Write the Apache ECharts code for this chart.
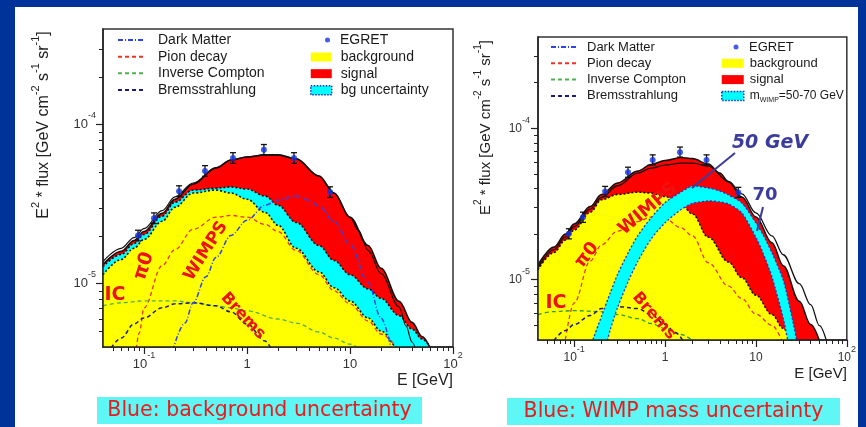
<!DOCTYPE html>
<html><head><meta charset="utf-8">
<script src="https://cdn.jsdelivr.net/npm/echarts@6.0.0/dist/echarts.min.js"></script>
<style>
html,body{margin:0;padding:0;width:866px;height:427px;overflow:hidden;background:#003399;}
#panel{position:absolute;left:15px;top:7px;width:843px;height:420px;background:#ffffff;}
#chart{position:absolute;left:0;top:0;width:859px;height:427px;}
</style></head><body>
<div id="panel"></div><div id="chart"></div>
<script>
// ---------------- axis ranges and ticks ----------------
const X_MIN = 0.04, X_MAX = 100, Y_MIN = 4e-6, Y_MAX = 4e-4;
const xMajor = [0.1, 1, 10, 100];
const xMajorLabels = ['10^-1', '1', '10', '10^2'];
const xMinor = [0.05,0.06,0.07,0.08,0.09,0.2,0.3,0.4,0.5,0.6,0.7,0.8,0.9,2,3,4,5,6,7,8,9,20,30,40,50,60,70,80,90];
const yMajor = [1e-5, 1e-4];
const yMajorLabels = ['10^-5', '10^-4'];
const yMinor = [5e-6,6e-6,7e-6,8e-6,9e-6,2e-5,3e-5,4e-5,5e-5,6e-5,7e-5,8e-5,9e-5,2e-4,3e-4];

// ---------------- EGRET data (both panels) ----------------
const egretE  = [0.0875, 0.125, 0.219, 0.391, 0.731, 1.46, 2.86, 6.40];
const egretF  = [2.01e-5, 2.58e-5, 3.82e-5, 5.12e-5, 6.18e-5, 6.95e-5, 6.18e-5, 3.77e-5];
const egretHi = [2.17e-5, 2.79e-5, 4.13e-5, 5.53e-5, 6.67e-5, 7.51e-5, 6.67e-5, 4.07e-5];
const egretLo = [1.86e-5, 2.39e-5, 3.54e-5, 4.74e-5, 5.72e-5, 6.44e-5, 5.72e-5, 3.49e-5];

// ---------------- left panel ----------------
const leftTotalE = [0.04,0.06,0.08,0.1,0.15,0.2,0.3,0.5,0.7,1,1.5,2,3,5,7,10,15,20,30,40,50,60];
const leftTotalF = [1.32e-5,1.60e-5,1.87e-5,2.13e-5,2.77e-5,3.40e-5,4.24e-5,5.35e-5,6.00e-5,6.27e-5,6.46e-5,6.46e-5,6.10e-5,4.76e-5,3.72e-5,2.62e-5,1.74e-5,1.25e-5,7.74e-6,5.71e-6,4.66e-6,3.94e-6];
const leftAltE = [0.04,0.06,0.08,0.1,0.15,0.2,0.3,0.5,0.7,1,1.5,2,3,5,7,10,12,15,20,30,35,40,45];
const leftAltF = [1.38e-5,1.67e-5,1.95e-5,2.22e-5,2.88e-5,3.52e-5,4.30e-5,5.35e-5,6.00e-5,6.27e-5,6.46e-5,6.46e-5,6.10e-5,4.76e-5,3.72e-5,2.62e-5,2.18e-5,1.62e-5,1.16e-5,7.15e-6,5.42e-6,4.30e-6,3.50e-6];
const leftBgUpE = [0.04,0.06,0.08,0.1,0.15,0.2,0.3,0.5,0.7,1,1.5,2,3,5,7,10,15,20,30,40,50,60];
const leftBgUpF = [1.28e-5,1.53e-5,1.79e-5,2.04e-5,2.66e-5,3.26e-5,3.88e-5,3.99e-5,4.06e-5,3.94e-5,3.56e-5,3.12e-5,2.43e-5,1.74e-5,1.40e-5,1.14e-5,9.29e-6,8.09e-6,6.30e-6,5.19e-6,4.49e-6,3.99e-6];
const leftBgE = [0.04,0.06,0.08,0.1,0.15,0.2,0.3,0.5,0.7,1,1.5,2,3,5,7,10,15,20,30,35];
const leftBgF = [1.14e-5,1.42e-5,1.67e-5,1.90e-5,2.47e-5,3.03e-5,3.72e-5,3.88e-5,3.72e-5,3.40e-5,2.81e-5,2.33e-5,1.67e-5,1.19e-5,9.44e-6,7.80e-6,6.09e-6,5.04e-6,3.88e-6,3.30e-6];
const leftPionE = [0.084,0.09,0.1,0.15,0.2,0.3,0.5,0.7,1,1.5,2,3,5,7,10,15,20,30];
const leftPionF = [3.9e-6,4.9e-6,7.05e-6,1.30e-5,1.64e-5,2.20e-5,2.62e-5,2.69e-5,2.62e-5,2.36e-5,2.13e-5,1.62e-5,1.14e-5,9.03e-6,7.47e-6,5.83e-6,4.83e-6,3.77e-6];
const leftDmE = [0.19,0.25,0.3,0.4,0.5,0.7,1,1.5,2,3,4,5,7,10,15,20,25];
const leftDmF = [3.8e-6,5.66e-6,7.59e-6,1.107e-5,1.462e-5,2.014e-5,2.506e-5,3.119e-5,3.35e-5,3.556e-5,3.35e-5,3.071e-5,2.467e-5,1.766e-5,1.014e-5,6.09e-6,3.94e-6];
const leftIcE = [0.04,0.06,0.1,0.2,0.3,0.5,0.7,1,2,3,5,7,10,12];
const leftIcF = [7.26e-6,7.59e-6,7.80e-6,7.80e-6,7.59e-6,7.26e-6,7.05e-6,6.75e-6,6.00e-6,5.66e-6,4.97e-6,4.55e-6,4.17e-6,3.94e-6];
const leftBremE = [0.048,0.06,0.08,0.1,0.15,0.2,0.3,0.5,0.7,1,1.5,1.7];
const leftBremF = [3.95e-6,4.55e-6,5.58e-6,6.09e-6,7.05e-6,7.47e-6,7.59e-6,7.26e-6,6.65e-6,5.58e-6,4.36e-6,3.94e-6];

// ---------------- right panel ----------------
const rightBgE = [0.04,0.06,0.08,0.1,0.15,0.2,0.3,0.5,0.7,1,1.5,2,3,5,7,10,15,20,25,30];
const rightBgF = [1.164e-5,1.513e-5,1.827e-5,2.128e-5,2.786e-5,3.373e-5,3.656e-5,3.784e-5,3.733e-5,3.54e-5,3.162e-5,2.717e-5,1.905e-5,1.306e-5,1.031e-5,7.91e-6,5.89e-6,4.77e-6,3.97e-6,3.3e-6];
const rightTot50E = [0.04,0.06,0.08,0.1,0.15,0.2,0.3,0.5,0.7,1,1.5,2,3,4,5,7,10,15,20,30,40,50];
const rightTot50F = [1.256e-5,1.644e-5,2.0e-5,2.333e-5,3.041e-5,3.648e-5,4.347e-5,5.212e-5,5.764e-5,6.118e-5,6.40e-5,6.30e-5,5.80e-5,5.058e-5,4.418e-5,3.516e-5,2.597e-5,1.751e-5,1.236e-5,7.2e-6,5.06e-6,3.95e-6];
const rightTot70E = [0.04,0.06,0.08,0.1,0.15,0.2,0.3,0.5,0.7,1,1.5,2,3,5,7,10,15,20,30,40,50,60];
const rightTot70F = [1.206e-5,1.578e-5,1.92e-5,2.24e-5,2.92e-5,3.50e-5,4.17e-5,5.058e-5,5.456e-5,5.711e-5,5.888e-5,5.888e-5,5.623e-5,4.45e-5,3.69e-5,2.759e-5,1.947e-5,1.461e-5,9.41e-6,6.85e-6,4.98e-6,3.91e-6];
const rightDmE = [0.161,0.2,0.25,0.3,0.4,0.5,0.7,1,1.5,2,3,4,5,7,10,12,15,20,25,28];
const rightDmHiF = [4.03e-6,5.74e-6,8.22e-6,1.082e-5,1.54e-5,1.948e-5,2.558e-5,3.228e-5,3.793e-5,4.152e-5,4.03e-5,3.85e-5,3.623e-5,3.211e-5,2.371e-5,1.977e-5,1.506e-5,9.93e-6,5.62e-6,3.98e-6];
const rightDmLoF = [3.0e-6,3.0e-6,4.70e-6,6.55e-6,1.0e-5,1.318e-5,1.855e-5,2.375e-5,2.904e-5,3.188e-5,3.311e-5,3.26e-5,3.162e-5,2.759e-5,1.901e-5,1.494e-5,1.042e-5,5.54e-6,3.0e-6,3.0e-6];
const rightPionE = [0.08,0.1,0.15,0.2,0.3,0.5,0.7,1,1.5,2,3,5,7,10,15,20];
const rightPionF = [4.03e-6,7.03e-6,1.327e-5,1.698e-5,2.094e-5,2.419e-5,2.588e-5,2.529e-5,2.198e-5,1.947e-5,1.294e-5,9.06e-6,7.50e-6,5.93e-6,5.0e-6,3.76e-6];
const rightIcE = [0.04,0.06,0.1,0.2,0.3,0.5,0.7,1,1.5,2];
const rightIcF = [5.89e-6,6.16e-6,6.25e-6,6.16e-6,5.89e-6,5.54e-6,5.14e-6,4.77e-6,4.35e-6,3.97e-6];
const rightBremE = [0.06,0.08,0.1,0.15,0.2,0.3,0.5,0.7,1,1.3,1.6];
const rightBremF = [3.97e-6,4.62e-6,5.06e-6,5.80e-6,6.45e-6,6.65e-6,6.45e-6,5.89e-6,5.06e-6,4.48e-6,3.89e-6];

// ---------------- helpers ----------------
const FONT = 'Liberation Sans, Arial, sans-serif';
const ANN = 'DejaVu Sans, sans-serif';
const AX = '#222';
const BAND_NAME = 'm_WIMP=50-70 GeV';
const pair = (xs, ys) => xs.map((x, i) => [x, ys[i]]);
function richLabel(t){ const p = t.split('^'); return '{n|' + p[0] + '}' + (p.length > 1 ? '{s|' + p[1] + '}' : ''); }
function tickFmt(vals, labs){
  return function(v){
    for (let i = 0; i < vals.length; i++) {
      if (Math.abs(Math.log10(v) - Math.log10(vals[i])) < 1e-6) return richLabel(labs[i]);
    }
    return '';
  };
}
const Y_NAME = '{n|E}{s|2}{n| * flux [GeV cm}{s|-2}{n| s}{s|-1}{n| sr}{s|-1}{n|]}';

function axes(g, s){
  const tickRich = {
    n: {fontSize: s.tfs, lineHeight: s.tlh, color: '#333', fontFamily: FONT},
    s: {fontSize: s.sfs, lineHeight: s.sfs, verticalAlign: 'top', color: '#333', fontFamily: FONT}
  };
  const xs = [
    { type:'log', gridIndex:g, min:X_MIN, max:X_MAX, z:10,
      axisLine:{show:true, lineStyle:{color:AX, width:1.5}},
      axisTick:{show:true, inside:false, length:7, customValues:xMajor, lineStyle:{color:AX, width:1.2}},
      axisLabel:{show:true, customValues:xMajor, formatter:tickFmt(xMajor, xMajorLabels), margin:s.xm, rich:tickRich},
      splitLine:{show:false}, minorTick:{show:false},
      name:'E [GeV]', nameLocation:'end', nameGap:0,
      nameTextStyle:{fontSize:s.nfs, color:'#222', fontFamily:FONT, align:'right', verticalAlign:'top', padding:[s.xnp,0,0,0]} },
    { type:'log', gridIndex:g, min:X_MIN, max:X_MAX, z:10, position:'bottom',
      axisLine:{show:false}, axisLabel:{show:false}, splitLine:{show:false},
      axisTick:{show:true, inside:false, length:4, customValues:xMinor, lineStyle:{color:AX, width:1}} }
  ];
  const ys = [
    { type:'log', gridIndex:g, min:Y_MIN, max:Y_MAX, z:10,
      axisLine:{show:true, lineStyle:{color:AX, width:1.5}},
      axisTick:{show:true, inside:false, length:7, customValues:yMajor, lineStyle:{color:AX, width:1.2}},
      axisLabel:{show:true, customValues:yMajor, formatter:tickFmt(yMajor, yMajorLabels), margin:s.ym, rich:tickRich},
      splitLine:{show:false}, minorTick:{show:false},
      name:Y_NAME, nameLocation:'middle', nameRotate:90, nameGap:s.yng,
      nameTextStyle:{color:'#222', fontFamily:FONT, padding:[0,0,0,s.ynp],
        rich:{ n:{fontSize:s.nfs, lineHeight:s.nlh, color:'#222', fontFamily:FONT},
               s:{fontSize:s.nsfs, lineHeight:s.nsfs, verticalAlign:'top', color:'#222', fontFamily:FONT} } } },
    { type:'log', gridIndex:g, min:Y_MIN, max:Y_MAX, z:10, position:'left',
      axisLine:{show:false}, axisLabel:{show:false}, splitLine:{show:false},
      axisTick:{show:true, inside:false, length:4, customValues:yMinor, lineStyle:{color:AX, width:1}} }
  ];
  return {xs, ys};
}

function area(name, xi, yi, xs, ys, color, z){
  return { type:'line', name, xAxisIndex:xi, yAxisIndex:yi, data:pair(xs, ys), symbol:'none',
    smooth:0.35, smoothMonotone:'x', clip:true, silent:true, z,
    itemStyle:{color}, lineStyle:{width:0, opacity:0}, areaStyle:{color, opacity:1, origin:'start'} };
}
function line(name, xi, yi, xs, ys, color, type, width, z){
  return { type:'line', name, xAxisIndex:xi, yAxisIndex:yi, data:pair(xs, ys), symbol:'none',
    smooth:0.35, smoothMonotone:'x', clip:true, silent:true, z,
    itemStyle:{color}, lineStyle:{color, type, width} };
}
function egret(xi, yi){
  return [
    { type:'custom', name:'EGRET errors', xAxisIndex:xi, yAxisIndex:yi, z:6, silent:true, clip:true,
      data: egretE.map((e, i) => [e, egretLo[i], egretHi[i]]),
      encode:{x:0, y:[1,2]},
      renderItem:(params, api) => {
        const x = api.value(0);
        const a = api.coord([x, api.value(1)]), b = api.coord([x, api.value(2)]);
        const st = {stroke:'#111', lineWidth:1.3};
        return {type:'group', children:[
          {type:'line', shape:{x1:a[0], y1:a[1], x2:b[0], y2:b[1]}, style:st},
          {type:'line', shape:{x1:b[0]-3, y1:b[1], x2:b[0]+3, y2:b[1]}, style:st},
          {type:'line', shape:{x1:a[0]-3, y1:a[1], x2:a[0]+3, y2:a[1]}, style:st}
        ]};
      } },
    { type:'scatter', name:'EGRET', xAxisIndex:xi, yAxisIndex:yi, z:7, silent:true,
      data: pair(egretE, egretF), symbol:'circle', symbolSize:6, itemStyle:{color:'#1535e0'} }
  ];
}
// WIMP mass band: polygon between the 50 GeV and 70 GeV dark-matter curves
function band(xi, yi){
  return { type:'custom', name:BAND_NAME, xAxisIndex:xi, yAxisIndex:yi, z:4, silent:true, clip:true,
    itemStyle:{color:'#00ffff'},
    data: pair(rightDmE, rightDmHiF), encode:{x:0, y:1},
    renderItem:(params, api) => {
      if (params.dataIndex !== 0) return null;
      const hi = rightDmE.map((e, i) => api.coord([e, rightDmHiF[i]]));
      const lo = rightDmE.map((e, i) => api.coord([e, rightDmLoF[i]]));
      const cs = params.coordSys;
      const edge = {stroke:'#2233c8', lineWidth:1.3, lineDash:[2,2], fill:null};
      return {type:'group',
        clipPath:{type:'rect', shape:{x:cs.x, y:cs.y, width:cs.width, height:cs.height}},
        children:[
          {type:'polygon', shape:{points: hi.concat(lo.slice().reverse()), smooth:0.25}, style:{fill:'#00ffff'}},
          {type:'polyline', shape:{points:hi, smooth:0.25}, style:edge},
          {type:'polyline', shape:{points:lo, smooth:0.25}, style:edge}
        ]};
    } };
}

const C_DM = '#2f44e6', C_PI = '#ee3322', C_IC = '#4fb04f', C_BR = '#1c1c78';
const DASH = [4,3], DOT = [2,2], DASHDOT = [5,2,1,2];

const L = axes(0, {tfs:13, tlh:27, sfs:9, xm:4, ym:7, nfs:16, xnp:26, yng:46, ynp:126, nlh:27, nsfs:11});
const R = axes(1, {tfs:12, tlh:25, sfs:9, xm:5, ym:8, nfs:15, xnp:26, yng:40, ynp:122, nlh:25, nsfs:10});

const series = [
  // left panel fills
  area('signal', 0, 0, leftTotalE, leftTotalF, '#ff0000', 1),
  area('bg uncertainty', 0, 0, leftBgUpE, leftBgUpF, '#00ffff', 1),
  area('background', 0, 0, leftBgE, leftBgF, '#ffff00', 1),
  line('bg upper edge', 0, 0, leftBgUpE, leftBgUpF, '#111', DOT, 1.6, 2),
  line('bg edge', 0, 0, leftBgE, leftBgF, '#111', DOT, 1.6, 2),
  line('Pion decay', 0, 0, leftPionE, leftPionF, C_PI, DASH, 1.3, 2),
  line('Inverse Compton', 0, 0, leftIcE, leftIcF, C_IC, DASH, 1.3, 2),
  line('Bremsstrahlung', 0, 0, leftBremE, leftBremF, C_BR, DASH, 1.5, 2),
  line('Dark Matter', 0, 0, leftDmE, leftDmF, C_DM, DASHDOT, 1.5, 2),
  line('total', 0, 0, leftTotalE, leftTotalF, '#111', 'solid', 1.6, 5),
  line('total (alt)', 0, 0, leftAltE, leftAltF, '#111', 'solid', 1.2, 5),
  ...egret(0, 0),
  // right panel
  area('signal', 2, 2, rightTot50E, rightTot50F, '#ff0000', 1),
  area('background', 2, 2, rightBgE, rightBgF, '#ffff00', 1),
  line('bg edge', 2, 2, rightBgE, rightBgF, '#111', DOT, 1.6, 2),
  line('Pion decay', 2, 2, rightPionE, rightPionF, C_PI, DASH, 1.3, 2),
  line('Inverse Compton', 2, 2, rightIcE, rightIcF, '#2e9a2e', DASH, 1.3, 2),
  line('Bremsstrahlung', 2, 2, rightBremE, rightBremF, C_BR, DASH, 1.5, 2),
  band(2, 2),
  line('total 50 GeV', 2, 2, rightTot50E, rightTot50F, '#111', 'solid', 1.5, 5),
  line('total 70 GeV', 2, 2, rightTot70E, rightTot70F, '#111', 'solid', 1.3, 5),
  ...egret(2, 2)
];

const legTxt = (fs, lh, pad) => ({fontSize:fs, lineHeight:lh, color:'#1a1a1a', fontFamily:FONT, padding:[0,0,0,pad]});
const boxItems = (third) => [
  {name:'background', icon:'rect', itemStyle:{color:'#ffff00', borderWidth:0}},
  {name:'signal', icon:'rect', itemStyle:{color:'#ff0000', borderWidth:0}},
  {name:third, icon:'rect', itemStyle:{color:'#00ffff', borderColor:'#1030d0', borderWidth:1.5, borderType:'dotted'}}
];
const lineNames = ['Dark Matter','Pion decay','Inverse Compton','Bremsstrahlung'];
const legend = [
  // left panel
  {data:lineNames, left:117, top:32, orient:'vertical', padding:0, itemWidth:26, itemHeight:14, itemGap:0.67,
   selectedMode:false, itemStyle:{opacity:0}, textStyle:legTxt(14, 16, 9)},
  {data:[{name:'EGRET', icon:'circle'}], left:325, top:32, padding:0, itemWidth:5, itemHeight:5,
   selectedMode:false, textStyle:legTxt(14, 16, 5)},
  {data:boxItems('bg uncertainty'), left:310, top:49, orient:'vertical', padding:0, itemWidth:21, itemHeight:9, itemGap:0.67,
   selectedMode:false, textStyle:legTxt(14, 16, 4)},
  // right panel
  {data:lineNames, left:550, top:39.5, orient:'vertical', padding:0, itemWidth:26, itemHeight:13, itemGap:1.3,
   selectedMode:false, itemStyle:{opacity:0}, textStyle:legTxt(13, 15, 5)},
  {data:[{name:'EGRET', icon:'circle'}], left:733.5, top:39.5, padding:0, itemWidth:5, itemHeight:5,
   selectedMode:false, textStyle:legTxt(13, 15, 5.5)},
  {data:boxItems(BAND_NAME), left:721, top:55.8, orient:'vertical', padding:0, itemWidth:22, itemHeight:9, itemGap:1.3,
   selectedMode:false,
   formatter: n => n === BAND_NAME ? '{t|m}{b|WIMP}{t|=50-70 GeV}' : n,
   textStyle:Object.assign(legTxt(13, 15, 1), {rich:{
     t:{fontSize:12, lineHeight:15, color:'#1a1a1a', fontFamily:FONT},
     b:{fontSize:7, lineHeight:7, verticalAlign:'bottom', color:'#1a1a1a', fontFamily:FONT}}})}
];

// annotations (pixel placed labels)
const annRed = [
  {t:'IC', x:115, y:295, r:0, fs:19},
  {t:'π0', x:144, y:266, r:1.25, fs:19},
  {t:'WIMPS', x:206, y:251, r:1.0, fs:17},
  {t:'Brems', x:243, y:316, r:-0.82, fs:16},
  {t:'IC', x:556, y:303, r:0, fs:19},
  {t:'π0', x:587, y:255, r:0.9, fs:18},
  {t:'WIMPS', x:648, y:209, r:0.7, fs:18},
  {t:'Brems', x:654, y:316, r:-0.85, fs:16}
];
const graphic = [];
annRed.forEach(a => graphic.push({type:'text', x:a.x, y:a.y, rotation:a.r, z:3, silent:true,
  style:{text:a.t, fill:'#ee1111', fontSize:a.fs, fontWeight:'bold', fontFamily:ANN, align:'center', verticalAlign:'middle'}}));
const C_ARR = '#3c3c9c';
graphic.push(
  {type:'text', x:770, y:143, z:8, silent:true, style:{text:'50 GeV', fill:C_ARR, fontSize:19, fontWeight:'bold', fontStyle:'italic', fontFamily:ANN, align:'center', verticalAlign:'middle'}},
  {type:'text', x:765, y:195, z:8, silent:true, style:{text:'70', fill:C_ARR, fontSize:18, fontWeight:'bold', fontFamily:ANN, align:'center', verticalAlign:'middle'}},
  {type:'line', z:8, silent:true, shape:{x1:735, y1:153, x2:692, y2:188}, style:{stroke:C_ARR, lineWidth:2}},
  {type:'line', z:8, silent:true, shape:{x1:763, y1:207, x2:757, y2:231}, style:{stroke:C_ARR, lineWidth:2}},
  {type:'rect', z:3, silent:true, shape:{x:97, y:397, width:325, height:27}, style:{fill:'#5ff6f6'}},
  {type:'text', x:259.5, y:410.5, z:4, silent:true, style:{text:'Blue: background uncertainty', fill:'#e81c1c', fontSize:20.5, fontFamily:ANN, align:'center', verticalAlign:'middle'}},
  {type:'rect', z:3, silent:true, shape:{x:507, y:398, width:333, height:27}, style:{fill:'#5ff6f6'}},
  {type:'text', x:673.5, y:411.5, z:4, silent:true, style:{text:'Blue: WIMP mass uncertainty', fill:'#e81c1c', fontSize:20.5, fontFamily:ANN, align:'center', verticalAlign:'middle'}}
);

const chart = echarts.init(document.getElementById('chart'));
chart.setOption({
  animation:false,
  backgroundColor:'transparent',
  grid:[
    {left:103, top:29, width:350, height:318, show:true, borderColor:'#333', borderWidth:1.5, backgroundColor:'transparent'},
    {left:538, top:37, width:310, height:303, show:true, borderColor:'#333', borderWidth:1.5, backgroundColor:'transparent'}
  ],
  xAxis:[...L.xs, ...R.xs],
  yAxis:[...L.ys, ...R.ys],
  legend,
  graphic,
  series
});
</script></body></html>
